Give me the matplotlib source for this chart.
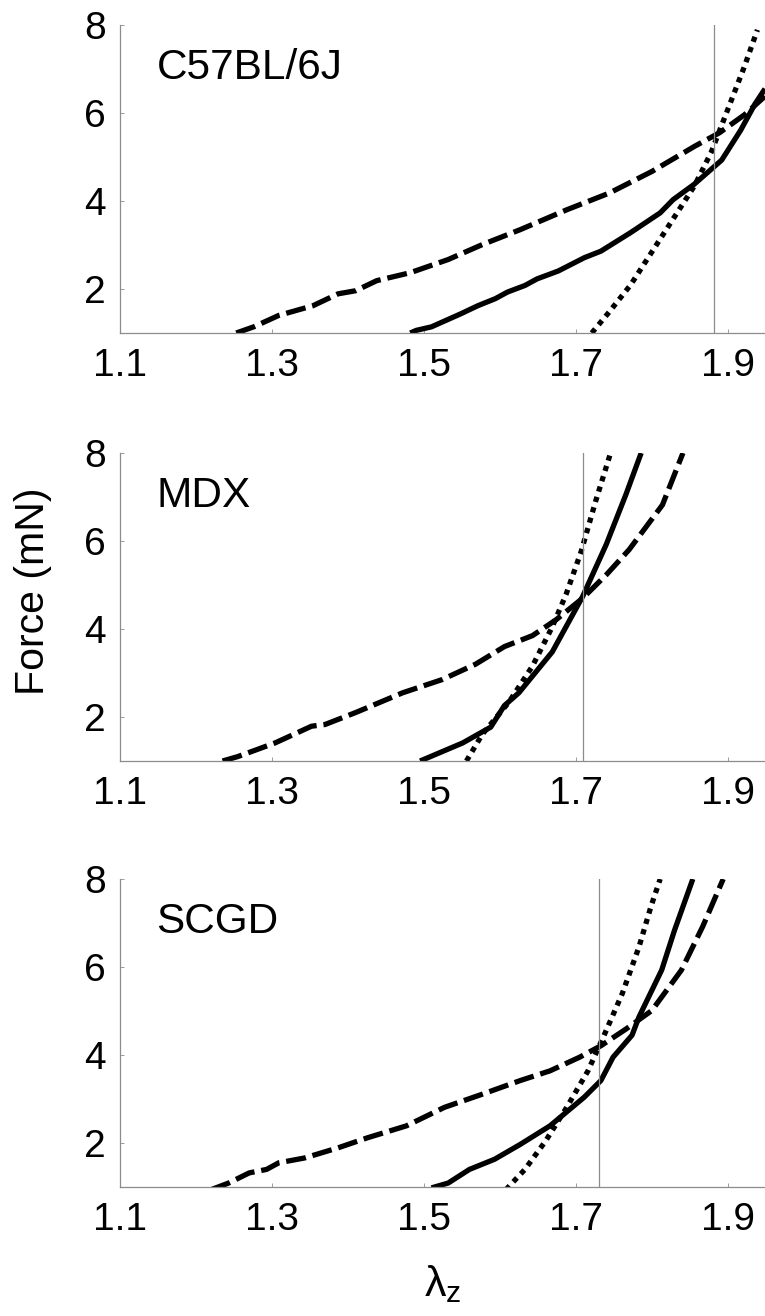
import matplotlib
matplotlib.use('Agg')
import matplotlib.pyplot as plt

plt.rcParams['font.family'] = ['Liberation Sans', 'DejaVu Sans']
plt.rcParams['mathtext.fontset'] = 'custom'
plt.rcParams['mathtext.rm'] = 'Liberation Sans'
plt.rcParams['mathtext.it'] = 'Liberation Sans'

# panel names and reference stretch (vertical line)
strains = ['C57BL/6J', 'MDX', 'SCGD']
ref_stretch = [1.882, 1.709, 1.730]

# C57BL/6J
c57_dash_x = [1.253, 1.276, 1.309, 1.354, 1.387, 1.410, 1.438, 1.482, 1.532, 1.577,
              1.627, 1.688, 1.744, 1.800, 1.856, 1.889, 1.922, 1.949]
c57_dash_y = [1.0, 1.14, 1.40, 1.62, 1.89, 1.96, 2.19, 2.37, 2.67, 3.01,
              3.35, 3.80, 4.18, 4.67, 5.24, 5.55, 5.96, 6.38]
c57_solid_x = [1.482, 1.490, 1.510, 1.549, 1.571, 1.594, 1.610, 1.633, 1.649, 1.677,
               1.711, 1.733, 1.772, 1.811, 1.828, 1.855, 1.892, 1.917, 1.936, 1.949]
c57_solid_y = [1.0, 1.06, 1.14, 1.44, 1.62, 1.78, 1.93, 2.08, 2.23, 2.41,
               2.71, 2.86, 3.28, 3.73, 4.03, 4.37, 4.93, 5.61, 6.21, 6.55]
c57_dot_x = [1.721, 1.744, 1.772, 1.800, 1.828, 1.856, 1.878, 1.900, 1.922, 1.939]
c57_dot_y = [1.0, 1.48, 2.09, 2.84, 3.59, 4.34, 5.10, 6.08, 7.06, 7.89]

# MDX
mdx_dash_x = [1.235, 1.255, 1.304, 1.352, 1.370, 1.410, 1.472, 1.524, 1.568, 1.606,
              1.643, 1.674, 1.709, 1.740, 1.770, 1.814, 1.841]
mdx_dash_y = [1.0, 1.10, 1.41, 1.79, 1.83, 2.10, 2.55, 2.85, 3.20, 3.60,
              3.85, 4.21, 4.70, 5.23, 5.80, 6.82, 8.0]
mdx_solid_x = [1.495, 1.551, 1.588, 1.606, 1.625, 1.669, 1.709, 1.740, 1.766, 1.786]
mdx_solid_y = [1.0, 1.41, 1.77, 2.26, 2.55, 3.48, 4.74, 5.92, 7.06, 8.0]
mdx_dot_x = [1.556, 1.577, 1.612, 1.643, 1.669, 1.687, 1.707, 1.726, 1.745]
mdx_dot_y = [1.0, 1.61, 2.34, 3.16, 4.05, 4.78, 5.76, 6.90, 7.96]

# SCGD
scgd_dash_x = [1.220, 1.243, 1.270, 1.293, 1.309, 1.343, 1.387, 1.426, 1.477, 1.527,
               1.577, 1.627, 1.666, 1.705, 1.733, 1.766, 1.800, 1.839, 1.867, 1.894]
scgd_dash_y = [0.94, 1.09, 1.32, 1.40, 1.55, 1.66, 1.89, 2.12, 2.39, 2.81,
               3.11, 3.42, 3.64, 3.95, 4.21, 4.59, 5.01, 5.93, 6.92, 8.0]
scgd_solid_x = [1.510, 1.532, 1.560, 1.593, 1.627, 1.666, 1.711, 1.733, 1.749, 1.774,
                1.783, 1.813, 1.830, 1.854]
scgd_solid_y = [0.98, 1.09, 1.40, 1.63, 1.97, 2.39, 3.04, 3.42, 3.95, 4.45,
                4.86, 5.93, 6.84, 8.0]
scgd_dot_x = [1.608, 1.633, 1.660, 1.688, 1.716, 1.738, 1.761, 1.783, 1.799, 1.811]
scgd_dot_y = [0.94, 1.40, 2.04, 2.81, 3.64, 4.48, 5.39, 6.45, 7.38, 8.0]

curves = [
    [(c57_dash_x, c57_dash_y), (c57_solid_x, c57_solid_y), (c57_dot_x, c57_dot_y)],
    [(mdx_dash_x, mdx_dash_y), (mdx_solid_x, mdx_solid_y), (mdx_dot_x, mdx_dot_y)],
    [(scgd_dash_x, scgd_dash_y), (scgd_solid_x, scgd_solid_y), (scgd_dot_x, scgd_dot_y)],
]
styles = [(0, (3.8, 1.3)), '-', (0, (1.0, 1.05))]

xticks = [1.1, 1.3, 1.5, 1.7, 1.9]
yticks = [2, 4, 6, 8]

W, H = 765, 1316
fig = plt.figure(figsize=(W / 100, H / 100), dpi=100)

left = 120 / W
width = 1 - left
tops = [25, 453, 879]
ax_h = 308

axes = []
for i, top in enumerate(tops):
    ax = fig.add_axes([left, 1 - (top + ax_h) / H, width, ax_h / H])
    for (x, y), ls in zip(curves[i], styles):
        ax.plot(x, y, color='black', lw=3.8, linestyle=ls,
                dash_capstyle='butt', solid_capstyle='butt')
    ax.axvline(ref_stretch[i], color='#8c8c8c', lw=0.9)
    ax.set_xlim(1.1, 1.949)
    ax.set_ylim(1, 8)
    ax.set_xticks(xticks)
    ax.set_xticklabels([f'{t:.1f}' for t in xticks])
    ax.set_yticks(yticks)
    ax.spines['top'].set_visible(False)
    ax.spines['right'].set_visible(False)
    for s in ['left', 'bottom']:
        ax.spines[s].set_color('#8c8c8c')
        ax.spines[s].set_linewidth(0.9)
    ax.tick_params(direction='in', length=3, width=0.6, colors='#8c8c8c',
                   labelcolor='black', labelsize=28)
    ax.tick_params(axis='x', pad=11)
    ax.tick_params(axis='y', pad=10)
    ax.text(1.148, 7.03, strains[i], fontsize=30.5, va='center', ha='left')
    axes.append(ax)

axes[1].set_ylabel('Force (mN)', fontsize=29.5)
axes[1].yaxis.set_label_coords(-0.105, 0.55)
axes[2].set_xlabel(r'$\lambda_\mathrm{z}$', fontsize=31, labelpad=18)

fig.savefig('out.png', dpi=100)
plt.close(fig)
